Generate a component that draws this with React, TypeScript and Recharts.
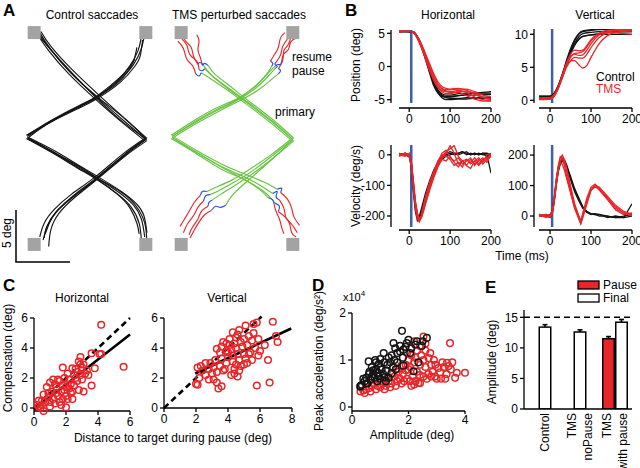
import React from 'react';
import {
  ComposedChart, Line, XAxis, YAxis, ReferenceLine, ReferenceDot,
  ScatterChart, Scatter, BarChart, Bar,
} from 'recharts';

const FONT = '"Liberation Sans", Arial, Helvetica, sans-serif';
const BLACK = '#151515';
const RED = '#e8262a';
const GREEN = '#66c340';
const BLUE = '#2a4fd6';
const STIM_BLUE = '#3f5fa8';
const GRAY = '#a3a3a3';

// ---------------- Panel A : trajectories (deg) ----------------
const targets = [[-5, 10], [5, 10], [-5, -10], [5, -10]];

const ctrlUpRight = [
  [[-5.6, 0.2], [-3.5, 1.6], [-1.0, 3.0], [0.6, 3.9], [2.4, 5.4], [3.6, 6.9], [4.3, 8.3], [4.6, 9.6]],
  [[-5.7, 0.3], [-3.4, 1.7], [-0.9, 3.1], [0.7, 4.0], [2.6, 5.5], [3.9, 7.0], [4.6, 8.5], [4.9, 9.9]],
  [[-5.5, 0.1], [-3.6, 1.5], [-1.1, 2.9], [0.5, 3.8], [2.3, 5.1], [3.3, 6.2], [3.9, 7.3], [4.2, 8.6]],
  [[-5.6, 0.3], [-3.5, 1.7], [-1.0, 3.1], [0.6, 4.0], [2.5, 5.6], [3.5, 6.7], [4.0, 7.5]],
  [[-5.6, 0.2], [-3.4, 1.6], [-0.9, 2.9], [0.7, 3.8], [2.7, 5.3], [4.0, 6.8], [4.5, 7.8], [4.7, 9.3]],
];
const ctrlUpLeft = [
  [[5.0, -0.1], [3.0, 1.7], [0.6, 3.9], [-1.8, 6.3], [-3.6, 8.5], [-4.6, 9.9]],
  [[5.1, 0.0], [3.1, 1.9], [0.8, 4.1], [-1.6, 6.5], [-3.5, 8.7], [-4.4, 10.1]],
  [[4.9, -0.2], [2.9, 1.5], [0.5, 3.7], [-1.9, 6.1], [-3.7, 8.3], [-4.7, 9.8]],
  [[5.0, 0.0], [3.2, 1.8], [0.7, 3.9], [-1.7, 6.2], [-3.5, 8.4], [-4.5, 10.0]],
  [[5.1, -0.1], [3.0, 1.5], [0.6, 3.8], [-1.8, 6.4], [-3.7, 8.6], [-4.8, 10.0]],
];
const ctrlDownRight = [
  [[-5.6, 0.1], [-3.2, -1.3], [-1.0, -2.7], [0.6, -3.7], [2.6, -5.1], [3.9, -6.3], [4.6, -7.6], [4.9, -9.3]],
  [[-5.7, 0.0], [-3.3, -1.4], [-1.1, -2.8], [0.5, -3.8], [2.4, -5.2], [3.7, -6.5], [4.4, -8.0], [4.6, -9.6]],
  [[-5.5, 0.1], [-3.1, -1.2], [-0.9, -2.6], [0.7, -3.6], [2.8, -5.0], [4.1, -6.1], [4.8, -7.2], [5.1, -8.9]],
  [[-5.6, 0.0], [-3.2, -1.4], [-1.0, -2.8], [0.6, -3.8], [2.5, -5.3], [3.6, -6.6], [4.2, -8.0], [4.4, -9.0]],
  [[-5.6, 0.1], [-3.3, -1.3], [-1.0, -2.6], [0.6, -3.7], [2.7, -5.0], [4.0, -6.2], [4.7, -7.4], [5.0, -8.5], [5.1, -9.9]],
];
const ctrlDownLeft = [
  [[5.0, -0.1], [3.0, -1.6], [0.6, -3.7], [-1.5, -5.4], [-3.0, -6.9], [-3.8, -8.2], [-4.2, -9.6]],
  [[5.1, -0.2], [3.1, -1.7], [0.7, -3.8], [-1.4, -5.6], [-2.8, -7.1], [-3.5, -8.6], [-3.7, -10.2]],
  [[4.9, 0.0], [2.9, -1.5], [0.5, -3.6], [-1.7, -5.3], [-3.2, -6.7], [-4.1, -8.0], [-4.5, -9.3]],
  [[5.0, -0.1], [3.0, -1.7], [0.6, -3.8], [-1.6, -5.6], [-3.1, -7.0], [-3.9, -8.4], [-4.1, -9.4]],
  [[5.0, 0.0], [3.1, -1.5], [0.7, -3.7], [-1.4, -5.4], [-2.9, -6.8], [-3.6, -7.9], [-4.0, -9.0]],
];

const tmsPrimary = [
  [[-5.8, 0.2], [-3.6, 1.6], [-1.5, 2.8], [0.0, 3.6], [1.6, 4.7], [2.8, 5.9], [3.4, 6.6]],
  [[-5.9, 0.3], [-3.7, 1.8], [-1.6, 3.0], [0.1, 3.8], [1.7, 5.0], [2.9, 6.3], [3.6, 7.0]],
  [[-5.7, 0.1], [-3.5, 1.5], [-1.4, 2.7], [0.1, 3.5], [1.8, 4.5], [3.0, 5.5], [3.7, 6.1]],
  [[-5.8, 0.2], [-3.6, 1.7], [-1.5, 2.9], [0.0, 3.7], [1.5, 4.8], [2.6, 6.0], [3.1, 6.8]],
  [[5.0, -0.1], [3.2, 1.5], [1.0, 3.3], [-0.8, 4.7], [-2.1, 5.8], [-2.9, 6.6]],
  [[5.1, 0.0], [3.3, 1.7], [1.1, 3.5], [-0.7, 5.0], [-2.0, 6.1], [-2.6, 6.9]],
  [[4.9, -0.2], [3.1, 1.4], [0.9, 3.2], [-0.9, 4.6], [-2.3, 5.6], [-3.2, 6.2]],
  [[5.0, -0.1], [3.2, 1.6], [1.0, 3.4], [-0.8, 4.8], [-2.2, 5.9], [-3.0, 6.9]],
  [[-5.8, 0.1], [-3.6, -1.3], [-1.3, -2.7], [0.6, -3.6], [2.2, -4.5], [3.2, -5.2]],
  [[-5.9, 0.0], [-3.7, -1.4], [-1.4, -2.9], [0.5, -3.8], [2.0, -4.8], [2.8, -5.6]],
  [[-5.7, 0.2], [-3.5, -1.2], [-1.2, -2.5], [0.8, -3.4], [2.6, -4.2], [3.6, -4.8]],
  [[-5.8, 0.1], [-3.5, -1.4], [-1.2, -2.8], [0.7, -3.9], [2.4, -5.0], [3.4, -6.1]],
  [[5.0, -0.1], [3.2, -1.6], [1.2, -3.2], [-0.4, -4.2], [-1.6, -4.9], [-2.4, -5.3]],
  [[5.1, -0.2], [3.3, -1.8], [1.3, -3.4], [-0.3, -4.5], [-1.5, -5.3], [-2.2, -5.8]],
  [[4.9, 0.0], [3.1, -1.5], [1.0, -3.0], [-0.6, -4.0], [-1.9, -4.6], [-2.7, -5.0]],
  [[5.0, -0.1], [3.4, -1.7], [1.5, -3.5], [0.2, -4.7], [-0.6, -5.6], [-1.0, -6.3]],
];
const tmsPause = [
  [[3.4, 6.6], [3.6, 6.8], [3.4, 7.0], [3.5, 7.2]],
  [[3.6, 7.0], [3.9, 7.0], [4.0, 7.3]],
  [[3.7, 6.1], [3.9, 6.4], [3.7, 6.6]],
  [[3.1, 6.8], [3.2, 7.1], [3.0, 7.3]],
  [[-2.9, 6.6], [-3.1, 6.4], [-3.4, 6.5]],
  [[-2.6, 6.9], [-2.9, 7.1], [-3.1, 6.9]],
  [[-3.2, 6.2], [-3.4, 5.9], [-3.7, 6.1]],
  [[-3.0, 6.9], [-3.3, 7.2], [-3.5, 7.0]],
  [[3.2, -5.2], [3.6, -5.0], [3.5, -5.5], [3.8, -5.8]],
  [[2.8, -5.6], [3.2, -5.8], [3.3, -6.1]],
  [[3.6, -4.8], [4.0, -4.7], [3.9, -5.1]],
  [[3.4, -6.1], [3.8, -6.4], [3.7, -6.9]],
  [[-2.4, -5.3], [-2.8, -5.4], [-3.0, -5.9]],
  [[-2.2, -5.8], [-2.5, -6.0], [-2.6, -6.4]],
  [[-2.7, -5.0], [-3.1, -5.0], [-3.3, -5.4]],
  [[-1.0, -6.3], [-1.5, -6.5], [-1.9, -6.4], [-2.3, -6.8]],
];
const tmsResume = [
  [[3.5, 7.2], [3.9, 7.9], [4.1, 8.7], [4.5, 9.4], [4.8, 10.3]],
  [[4.0, 7.3], [4.2, 8.0], [4.6, 8.4], [4.8, 9.1], [5.3, 9.5]],
  [[3.7, 6.6], [4.1, 7.4], [4.2, 8.3], [4.6, 8.9], [4.9, 9.9]],
  [[3.0, 7.3], [3.4, 8.0], [3.7, 8.6], [3.9, 9.5], [4.3, 10.0]],
  [[-3.4, 6.5], [-3.6, 7.3], [-4.2, 7.9], [-4.5, 8.8], [-5.1, 9.6]],
  [[-3.1, 6.9], [-3.3, 7.7], [-3.5, 8.4], [-3.4, 9.2], [-3.6, 9.8]],
  [[-3.7, 6.1], [-4.0, 6.9], [-4.5, 7.5], [-4.8, 8.5], [-5.3, 9.2]],
  [[-3.5, 7.0], [-3.9, 7.8], [-4.1, 8.6], [-4.6, 9.2], [-5.2, 10.1]],
  [[3.8, -5.8], [4.2, -6.6], [4.4, -7.5], [4.9, -8.1], [5.4, -8.9]],
  [[3.3, -6.1], [3.5, -6.9], [3.8, -7.6], [4.0, -8.4], [4.2, -9.0]],
  [[3.9, -5.1], [4.5, -5.7], [4.9, -6.6], [5.1, -7.4], [5.6, -8.2]],
  [[3.7, -6.9], [4.3, -7.4], [4.7, -8.0], [4.9, -8.9], [5.3, -9.3]],
  [[-3.0, -5.9], [-3.5, -6.5], [-3.9, -7.3], [-4.4, -8.0], [-4.8, -8.9]],
  [[-2.6, -6.4], [-3.2, -6.9], [-3.5, -7.6], [-4.0, -8.4], [-4.3, -9.1]],
  [[-3.3, -5.4], [-3.8, -6.0], [-4.3, -6.9], [-4.7, -7.6], [-5.1, -8.3]],
  [[-2.3, -6.8], [-2.9, -7.2], [-3.4, -7.9], [-3.8, -8.6], [-4.2, -9.4]],
];

// ---------------- Panel B : time series ----------------
const stimTime = 5;
const posHTimes = [-25, 0, 10, 20, 30, 40, 50, 60, 70, 80, 90, 100, 120, 140, 160, 180, 200];
const posHControl = [
  [5.3, 5.3, 5.2, 4.4, 3.0, 1.2, -0.8, -2.6, -3.8, -4.3, -4.5, -4.5, -4.4, -4.3, -4.3, -4.2, -4.2],
  [5.3, 5.3, 5.2, 4.5, 3.2, 1.5, -0.5, -2.4, -3.7, -4.4, -4.7, -4.8, -4.8, -4.7, -4.7, -4.6, -4.6],
  [5.2, 5.3, 5.1, 4.3, 2.9, 1.0, -1.0, -2.9, -4.0, -4.5, -4.6, -4.6, -4.4, -4.2, -4.0, -3.9, -3.8],
  [5.3, 5.3, 5.2, 4.4, 3.1, 1.3, -0.6, -2.5, -3.9, -4.7, -5.0, -5.0, -4.9, -4.9, -4.8, -4.8, -4.8],
  [5.3, 5.2, 5.2, 4.5, 3.3, 1.6, -0.3, -2.2, -3.5, -4.1, -4.3, -4.3, -4.1, -4.0, -4.0, -4.0, -4.0],
];
const posHTms = [
  [5.3, 5.3, 5.2, 4.3, 3.0, 1.4, -0.2, -1.7, -2.8, -3.4, -3.7, -3.8, -3.6, -3.9, -4.6, -5.0, -5.1],
  [5.3, 5.3, 5.2, 4.4, 3.2, 1.7, 0.1, -1.4, -2.6, -3.3, -3.5, -3.5, -3.4, -3.4, -3.8, -4.3, -4.5],
  [5.3, 5.3, 5.2, 4.2, 2.8, 1.1, -0.6, -2.1, -3.1, -3.6, -3.8, -3.9, -3.9, -4.4, -4.9, -5.2, -5.2],
  [5.3, 5.3, 5.2, 4.5, 3.3, 1.9, 0.4, -1.1, -2.3, -3.0, -3.3, -3.4, -3.3, -3.6, -4.2, -4.7, -4.9],
  [5.2, 5.3, 5.1, 4.3, 2.9, 1.2, -0.5, -2.0, -3.2, -3.8, -4.1, -4.1, -3.8, -3.7, -4.0, -4.6, -5.0],
];
const posVControlTimes = [-27, 0, 10, 20, 30, 40, 50, 60, 70, 80, 100, 120, 150, 200];
const posVControl = [
  [0.6, 0.6, 1.0, 2.2, 3.9, 5.8, 7.6, 9.0, 10.0, 10.4, 10.6, 10.7, 10.7, 10.7],
  [0.6, 0.6, 1.0, 2.0, 3.6, 5.4, 7.2, 8.6, 9.6, 10.1, 10.3, 10.4, 10.4, 10.4],
  [0.5, 0.5, 0.9, 2.1, 3.8, 5.6, 7.3, 8.5, 9.3, 9.7, 9.9, 10.0, 10.0, 10.0],
  [0.6, 0.6, 1.1, 2.3, 4.0, 6.0, 7.8, 9.2, 10.1, 10.5, 10.7, 10.8, 10.8, 10.8],
  [0.6, 0.6, 1.0, 2.1, 3.7, 5.5, 7.0, 8.3, 9.2, 9.7, 9.9, 10.1, 10.3, 10.4],
];
const posVTmsTimes = [-27, 0, 10, 20, 30, 40, 50, 60, 70, 80, 90, 100, 120, 140, 160, 200];
const posVTms = [
  [0.2, 0.3, 0.8, 2.0, 3.8, 5.6, 7.0, 7.6, 7.5, 7.6, 8.3, 9.2, 10.2, 10.6, 10.7, 10.8],
  [0.3, 0.3, 0.7, 1.8, 3.4, 5.0, 6.0, 6.5, 6.4, 6.4, 7.0, 8.0, 9.5, 10.3, 10.6, 10.7],
  [0.1, 0.2, 0.7, 1.9, 3.5, 5.1, 6.0, 6.0, 5.4, 4.9, 5.3, 6.5, 8.6, 9.8, 10.3, 10.5],
  [0.4, 0.4, 0.9, 2.1, 3.8, 5.5, 6.6, 7.0, 6.8, 6.9, 7.6, 8.6, 9.9, 10.4, 10.5, 10.6],
  [0.2, 0.2, 0.6, 1.8, 3.6, 5.3, 6.5, 7.1, 7.2, 7.4, 8.1, 9.0, 10.0, 10.3, 10.2, 10.0],
];
const velHTimes = [-25, -10, 0, 5, 10, 15, 20, 25, 30, 35, 40, 50, 60, 70, 80, 90, 100, 110, 120, 130, 140, 150, 160, 170, 180, 190, 200];
const velHControl = [
  [0, 0, -5, -30, -100, -170, -205, -210, -190, -165, -140, -95, -60, -30, -10, 0, 5, 0, 5, 10, 0, 5, 0, 5, 0, 0, -60],
  [5, 0, -5, -40, -120, -185, -215, -200, -175, -150, -125, -85, -50, -25, -5, 5, 10, 5, 0, 5, 10, 0, 5, 0, 5, -5, 5],
  [0, 5, 0, -25, -90, -160, -195, -205, -195, -170, -145, -100, -65, -35, -15, -5, 0, 5, 5, 10, 5, 0, 5, 0, 5, 5, 0],
];
const velHTms = [
  [0, 5, -5, -30, -95, -160, -200, -215, -200, -175, -150, -105, -65, -30, -5, 10, 20, 30, -5, -20, -15, -25, -10, -30, -15, -10, -5],
  [5, 0, 0, -20, -80, -150, -195, -215, -205, -180, -155, -110, -70, -35, -10, 5, 30, 5, -30, -20, -35, -15, -30, -20, -10, -25, 0],
  [0, 0, -5, -35, -105, -175, -210, -220, -200, -170, -140, -95, -55, -20, 0, -5, -15, -35, -25, -40, -15, -30, -20, -35, -20, -10, 0],
  [-5, 5, 0, -25, -90, -155, -190, -210, -205, -185, -160, -115, -75, -40, -15, -20, -5, -25, -40, -20, -35, -45, -20, -10, -25, 0, 5],
  [0, -5, 5, -30, -100, -165, -205, -215, -195, -165, -135, -90, -55, -25, 5, 15, -10, -20, -10, -30, -20, -10, -35, -15, -30, -15, -5],
];
const velVTimes = [-27, -10, 0, 5, 10, 15, 20, 25, 30, 35, 40, 50, 60, 70, 75, 80, 90, 100, 110, 120, 140, 160, 180, 200];
const velVControl = [
  [0, 5, 0, 10, 50, 110, 150, 180, 190, 185, 170, 130, 90, 60, 45, 30, 15, 8, 5, 5, 0, -5, -5, 40],
  [5, 0, 5, 15, 60, 120, 160, 175, 180, 175, 160, 125, 85, 55, 40, 28, 14, 6, 5, 0, 0, -5, 0, 5],
  [0, 0, -5, 5, 45, 100, 145, 170, 185, 180, 165, 120, 80, 50, 38, 25, 12, 5, 8, 5, -5, 0, -5, 0],
];
const velVTms = [
  [0, 5, 0, 10, 50, 110, 160, 190, 200, 185, 160, 100, 40, 0, -20, 5, 50, 90, 100, 85, 55, 25, 10, 5],
  [5, -5, 5, 15, 55, 115, 165, 195, 190, 165, 135, 80, 25, -10, -25, -5, 40, 85, 95, 90, 60, 30, 10, 0],
  [0, 0, -5, 5, 45, 100, 150, 180, 190, 180, 150, 90, 35, 0, -15, 10, 60, 95, 105, 90, 55, 20, 5, 10],
  [5, 0, 0, 10, 50, 105, 155, 175, 170, 150, 125, 75, 25, -5, -25, 0, 45, 85, 100, 95, 65, 35, 15, 5],
];

// ---------------- Panel C : compensation ----------------
const compHorizontal = [
  [4.2, 5.55], [5.6, 2.75], [4.1, 3.6], [4.2, 3.6], [3.6, 3.65], [2.9, 3.4], [2.8, 3.1], [2.9, 2.9], [3.0, 2.7], [2.4, 2.65],
  [1.8, 2.7], [3.3, 2.5], [3.2, 2.3], [2.7, 2.4], [2.5, 2.2], [2.1, 2.3], [1.9, 2.0], [1.2, 1.9], [1.5, 1.9], [1.6, 1.8],
  [1.0, 1.7], [0.8, 1.4], [1.4, 1.4], [2.0, 1.4], [2.3, 1.6], [2.7, 1.8], [3.0, 1.9], [3.6, 1.5], [3.1, 1.1], [3.8, 2.65],
  [2.6, 2.0], [2.3, 1.0], [2.0, 0.8], [1.8, 0.6], [2.4, 0.6], [1.5, 0.8], [1.2, 0.6], [0.9, 0.7], [0.7, 0.4], [0.5, 0.5],
  [0.3, 0.5], [0.2, 0.2], [0.4, 0.0], [0.6, -0.2], [1.0, 0.1], [1.3, 0.3], [1.6, 0.4], [2.0, 0.05], [1.1, 1.1], [1.9, 1.2],
  [2.2, 1.3], [1.7, 1.1], [2.5, 1.5], [2.8, 1.2], [1.4, 1.0], [0.9, 1.0], [0.6, 0.9], [0.3, 0.1], [1.8, 1.5], [2.9, 2.2],
  [2.2, 1.9], [3.4, 2.2], [3.1, 2.9], [2.6, 2.6], [1.0, 0.4], [0.5, 0.2], [1.7, 0.2], [2.1, 0.6], [1.3, 1.6], [2.4, 1.1],
];
const compVertical = [
  [6.8, 5.75], [5.8, 5.7], [5.6, 5.6], [5.1, 5.5], [4.7, 5.2], [4.3, 5.05], [4.6, 4.9], [5.3, 4.8], [7.0, 4.8], [7.1, 4.4],
  [6.3, 4.2], [5.9, 4.6], [5.5, 4.5], [5.0, 4.6], [4.8, 4.4], [4.4, 4.3], [4.1, 4.2], [3.9, 4.3], [3.7, 4.4], [3.3, 3.95],
  [3.5, 3.7], [3.9, 3.8], [4.2, 3.9], [4.5, 4.0], [4.9, 4.1], [5.2, 4.2], [5.7, 4.0], [6.0, 3.8], [5.4, 3.7], [5.0, 3.6],
  [4.6, 3.6], [4.3, 3.5], [4.0, 3.4], [3.6, 3.3], [3.2, 3.2], [2.9, 3.0], [2.6, 3.0], [2.3, 2.8], [2.1, 2.7], [2.4, 2.5],
  [2.8, 2.6], [3.1, 2.7], [3.5, 2.8], [3.9, 3.0], [4.3, 3.1], [4.7, 3.2], [5.1, 3.3], [5.5, 3.2], [5.9, 3.5], [6.5, 3.2],
  [4.5, 2.9], [4.8, 2.8], [4.4, 2.6], [4.7, 2.5], [3.7, 2.5], [3.3, 2.4], [3.0, 2.3], [2.6, 2.2], [2.2, 2.0], [2.0, 1.6],
  [2.1, 1.55], [3.4, 1.3], [3.6, 1.45], [3.3, 1.7], [3.1, 1.9], [4.4, 2.3], [4.6, 2.1], [4.2, 2.2], [5.0, 2.9], [5.2, 3.0],
  [6.6, 1.7], [5.8, 1.5], [5.3, 3.6], [4.0, 3.7], [3.6, 4.1], [4.1, 4.6], [4.5, 4.7], [5.6, 5.0], [3.8, 2.6], [2.8, 1.9],
];
const compHUnity = [{ x: 0, y: 0 }, { x: 6, y: 6 }];
const compHFit = [{ x: 0, y: -0.1 }, { x: 6, y: 4.9 }];
const compVUnity = [{ x: 0, y: 0 }, { x: 6.1, y: 6.1 }];
const compVFit = [{ x: 1.95, y: 2.3 }, { x: 7.95, y: 5.3 }];

// ---------------- Panel D : peak acceleration (x10^4 deg/s^2) ----------------
const accelControl = [
  [1.77, 1.62], [2.65, 1.47], [2.0, 1.43], [1.94, 1.36], [1.47, 1.36], [1.53, 1.25], [2.24, 1.33], [2.47, 1.3], [1.82, 1.22], [1.12, 1.15],
  [2.06, 1.15], [2.35, 0.95], [1.82, 0.88], [2.18, 0.76], [0.59, 0.97], [0.82, 1.0], [0.29, 0.43], [0.35, 0.47], [1.6, 1.15], [1.7, 1.18],
  [1.4, 1.1], [1.3, 1.05], [1.0, 1.02], [0.95, 0.92], [1.15, 0.95], [1.25, 0.9], [1.35, 0.95], [1.5, 1.0], [0.7, 0.85], [0.75, 0.78],
  [0.85, 0.8], [0.9, 0.72], [1.05, 0.8], [1.2, 0.78], [1.1, 0.7], [1.4, 0.72], [1.3, 0.62], [0.6, 0.7], [0.5, 0.62], [0.45, 0.55],
  [0.55, 0.5], [0.65, 0.58], [0.8, 0.62], [0.9, 0.55], [1.0, 0.6], [1.2, 0.55], [0.7, 0.65], [0.4, 0.6], [0.3, 0.45], [1.6, 0.95],
  [1.8, 1.05], [2.1, 1.25], [2.3, 1.4], [2.5, 1.4], [1.45, 0.85], [1.7, 1.3], [1.55, 0.8], [0.85, 0.95], [1.9, 1.28], [1.0, 0.85],
  [0.75, 0.7], [1.15, 0.63], [0.5, 0.5], [0.62, 0.75], [0.95, 0.65],
];
const accelTms = [
  [3.47, 1.36], [4.0, 0.73], [3.71, 0.73], [3.65, 0.62], [3.36, 0.94], [3.42, 0.87], [3.06, 0.83], [3.12, 0.74], [2.94, 0.65], [3.0, 0.6],
  [2.53, 0.65], [2.41, 0.51], [2.35, 0.51], [2.77, 1.15], [2.71, 1.04], [2.53, 1.5], [2.53, 1.0], [2.41, 0.9], [2.2, 1.4], [2.3, 1.2],
  [2.1, 1.1], [2.0, 1.0], [2.2, 0.95], [1.9, 0.9], [2.0, 0.8], [2.3, 0.75], [2.6, 0.85], [2.8, 0.9], [2.9, 1.0], [3.2, 0.95],
  [3.35, 0.7], [2.7, 0.7], [2.6, 1.2], [2.45, 1.1], [2.15, 0.65], [1.95, 0.6], [1.8, 0.7], [1.7, 0.6], [1.6, 0.55], [1.5, 0.65],
  [1.4, 0.5], [1.3, 0.55], [1.2, 0.45], [1.1, 0.5], [1.0, 0.42], [0.9, 0.45], [0.8, 0.5], [0.7, 0.45], [0.6, 0.4], [0.5, 0.38],
  [0.4, 0.35], [0.3, 0.33], [0.45, 0.3], [0.65, 0.33], [1.35, 0.42], [1.55, 0.45], [1.75, 0.5], [1.85, 0.55], [2.05, 0.55], [2.25, 0.55],
  [1.05, 0.55], [1.25, 0.62], [1.45, 0.7], [1.65, 0.75], [1.9, 0.78], [2.05, 0.85], [1.75, 0.88], [1.6, 0.82], [2.4, 0.68], [2.65, 0.6],
  [2.85, 0.75], [3.25, 0.85], [3.5, 0.8], [3.55, 0.95], [1.15, 0.38], [0.85, 0.38], [2.95, 0.9], [2.25, 1.05], [2.4, 1.3], [2.6, 1.35],
  [1.95, 1.15], [3.15, 0.6], [3.3, 0.6], [2.8, 0.65], [2.1, 0.45], [2.2, 0.48],
];

// ---------------- Panel E : amplitudes ----------------
const ampGroups = ['Control', 'TMS\nnoPause', 'TMS\nwith pause'];
const ampPause = [null, null, 11.5];
const ampPauseErr = [null, null, 0.35];
const ampFinal = [13.4, 12.6, 14.2];
const ampFinalErr = [0.4, 0.35, 0.45];
const ampTarget = 15;

// ---------------- helpers ----------------
const toXY = (arr: number[][]) => arr.map(([x, y]) => ({ x, y }));
const toTV = (times: number[], vals: number[]) => times.map((t, i) => ({ t, v: vals[i] }));

type Rect = { left: number; top: number; width: number; height: number };
const PAD = 10;
function frame(p: Rect, yw = 0, xh = 0) {
  const L = PAD + yw;
  return {
    style: { position: 'absolute' as const, left: p.left - L, top: p.top - PAD },
    width: p.width + L + PAD,
    height: p.height + PAD + PAD + xh,
    margin: { top: PAD, right: PAD, bottom: PAD, left: PAD },
  };
}

const tickFont = { fill: '#000', fontSize: 12, fontFamily: FONT };
const axLine = { stroke: '#000', strokeWidth: 1.3 };

const ring = (color: string) => (p: any) => (
  <circle cx={p.cx} cy={p.cy} r={3.3} fill="none" stroke={color} strokeWidth={1.5} />
);
const square = (p: any) => (
  <rect x={p.cx - 6.5} y={p.cy - 6.5} width={13} height={13} fill={GRAY} />
);

function TrajPanel({ plot, groups }: { plot: Rect; groups: { paths: number[][][]; color: string }[] }) {
  const f = frame(plot);
  return (
    <div style={f.style}>
      <ComposedChart width={f.width} height={f.height} margin={f.margin}>
        <XAxis type="number" dataKey="x" domain={[-6, 6]} hide allowDataOverflow />
        <YAxis type="number" domain={[-11, 11]} hide allowDataOverflow />
        {targets.map(([x, y], i) => (
          <ReferenceDot key={'t' + i} x={x} y={y} r={6} shape={square} ifOverflow="visible" />
        ))}
        {groups.map((g, gi) =>
          g.paths.map((p, i) => (
            <Line key={gi + '-' + i} data={toXY(p)} dataKey="y" type="natural" stroke={g.color}
              strokeWidth={1.15} dot={false} activeDot={false} isAnimationActive={false} />
          )),
        )}
      </ComposedChart>
    </div>
  );
}

function TracePanel(props: {
  plot: Rect; xDomain: number[]; xPad: number; yDomain: number[]; yTicks: number[]; yPad: number;
  series: { times: number[]; vals: number[][]; color: string }[]; curve: any;
}) {
  const { plot, xDomain, xPad, yDomain, yTicks, yPad, series, curve } = props;
  const f = frame(plot, 40, 26);
  return (
    <div style={f.style}>
      <ComposedChart width={f.width} height={f.height} margin={f.margin}>
        <XAxis type="number" dataKey="t" domain={xDomain} ticks={[0, 100, 200]} allowDataOverflow
          padding={{ left: xPad, right: 0 }} height={26} tick={tickFont} tickSize={4} tickMargin={2}
          tickLine={axLine} axisLine={{ ...axLine, strokeDasharray: `0 ${xPad} ${plot.width} 0` }} />
        <YAxis type="number" domain={yDomain} ticks={yTicks} allowDataOverflow
          padding={{ top: 0, bottom: yPad }} width={40} tick={tickFont} tickSize={4} tickMargin={2}
          tickLine={axLine} axisLine={{ ...axLine, strokeDasharray: `${plot.height - yPad} 400` }} />
        <ReferenceLine segment={[{ x: stimTime, y: yDomain[0] }, { x: stimTime, y: yDomain[1] }]}
          stroke={STIM_BLUE} strokeWidth={2.5} />
        {series.map((s, si) =>
          s.vals.map((v, i) => (
            <Line key={si + '-' + i} data={toTV(s.times, v)} dataKey="v" type={curve} stroke={s.color}
              strokeWidth={1.3} dot={false} activeDot={false} isAnimationActive={false} />
          )),
        )}
      </ComposedChart>
    </div>
  );
}

function CompPanel(props: {
  plot: Rect; xMax: number; xTicks: number[]; pts: number[][]; unity: any[]; fit: any[];
}) {
  const { plot, xMax, xTicks, pts, unity, fit } = props;
  const f = frame(plot, 30, 24);
  return (
    <div style={f.style}>
      <ScatterChart width={f.width} height={f.height} margin={f.margin}>
        <XAxis type="number" dataKey="x" domain={[0, xMax]} ticks={xTicks} height={24} tick={tickFont}
          tickSize={4} tickMargin={2} tickLine={axLine} axisLine={axLine} />
        <YAxis type="number" dataKey="y" domain={[0, 6]} ticks={[0, 2, 4, 6]} width={30} tick={tickFont}
          tickSize={4} tickMargin={2} tickLine={axLine} axisLine={axLine} />
        <Scatter data={toXY(pts)} shape={ring(RED)} isAnimationActive={false} />
        <ReferenceLine segment={unity} stroke="#000" strokeWidth={2.6} strokeDasharray="6 4" ifOverflow="visible" />
        <ReferenceLine segment={fit} stroke="#000" strokeWidth={2.6} ifOverflow="visible" />
      </ScatterChart>
    </div>
  );
}

function AccelPanel() {
  const plot = { left: 352, top: 313, width: 113, height: 98 };
  const f = frame(plot, 30, 24);
  return (
    <div style={f.style}>
      <ScatterChart width={f.width} height={f.height} margin={f.margin}>
        <XAxis type="number" dataKey="x" domain={[0, 4]} ticks={[0, 2, 4]} height={24} tick={tickFont}
          tickSize={3} tickMargin={1} tickLine={axLine} axisLine={axLine} />
        <YAxis type="number" dataKey="y" domain={[0, 2]} ticks={[0, 1, 2]} width={30} tick={tickFont}
          padding={{ top: 0, bottom: 4 }} tickSize={4} tickMargin={2} tickLine={axLine} axisLine={axLine} />
        <Scatter data={toXY(accelTms)} shape={ring(RED)} isAnimationActive={false} />
        <Scatter data={toXY(accelControl)} shape={ring(BLACK)} isAnimationActive={false} />
      </ScatterChart>
    </div>
  );
}

const CatTick = (p: any) => {
  const lines = String(p.payload.value).split('\n');
  return (
    <g>
      {lines.map((ln, i) => {
        const cx = p.x + (i - (lines.length - 1) / 2) * 16;
        const cy = p.y;
        return (
          <text key={i} x={cx} y={cy} transform={`rotate(-90 ${cx} ${cy})`} textAnchor="end"
            dominantBaseline="central" fontSize={12} fontFamily={FONT} fill="#000">{ln}</text>
        );
      })}
    </g>
  );
};

const barShape = (valKey: string, errKey: string, color: string) => (p: any) => {
  const d = p.payload || {};
  const val = d[valKey];
  if (val == null || !p.height) return <g />;
  const shift = valKey === 'final' && d.pause == null ? -p.width / 2 : 0;
  const x = p.x + shift;
  const cx = x + p.width / 2;
  const errPx = (d[errKey] || 0) * p.height / val;
  return (
    <g>
      <rect x={x + 0.75} y={p.y} width={p.width - 1.5} height={p.height} fill={color} stroke="#000" strokeWidth={1.5} />
      <line x1={cx} y1={p.y} x2={cx} y2={p.y - errPx} stroke="#000" strokeWidth={1.6} />
      <line x1={cx - 2.5} y1={p.y - errPx} x2={cx + 2.5} y2={p.y - errPx} stroke="#000" strokeWidth={1.6} />
    </g>
  );
};

function AmpPanel() {
  const rows = ampGroups.map((name, i) => ({
    name, pause: ampPause[i], pauseErr: ampPauseErr[i], final: ampFinal[i], finalErr: ampFinalErr[i],
  }));
  const plot = { left: 524, top: 310, width: 108, height: 99 };
  const f = frame(plot, 34, 62);
  return (
    <div style={f.style}>
      <BarChart width={f.width} height={f.height} margin={f.margin} data={rows} barGap={0} barSize={13}>
        <XAxis dataKey="name" type="category" height={62} tick={<CatTick />} tickSize={0} tickMargin={4}
          tickLine={false} axisLine={axLine} padding={{ left: 3, right: 0 }} interval={0} />
        <YAxis type="number" domain={[0, 16.2]} ticks={[0, 5, 10, 15]} width={34} tick={tickFont}
          tickSize={4} tickMargin={2} tickLine={axLine} axisLine={axLine} allowDataOverflow />
        <ReferenceLine y={ampTarget} stroke="#000" strokeWidth={1.5} strokeDasharray="6 4" />
        <Bar dataKey="pause" fill={RED} shape={barShape('pause', 'pauseErr', RED)} isAnimationActive={false} />
        <Bar dataKey="final" fill="#fff" shape={barShape('final', 'finalErr', '#fff')} isAnimationActive={false} />
      </BarChart>
    </div>
  );
}

const T = (p: any) => (
  <text fontFamily={FONT} fontSize={12} fill="#000" dominantBaseline="central" {...p} />
);
const RT = ({ x, y, children, ...rest }: any) => (
  <text x={x} y={y} transform={`rotate(-90 ${x} ${y})`} textAnchor="middle" dominantBaseline="central"
    fontFamily={FONT} fontSize={12} fill="#000" {...rest}>{children}</text>
);
const Letter = ({ x, y, children }: any) => (
  <text x={x} y={y} fontFamily={FONT} fontSize={17} fontWeight="bold" fill="#000" dominantBaseline="central">{children}</text>
);

export default function App() {
  const ctrlGroups = [
    { paths: [...ctrlUpRight, ...ctrlUpLeft, ...ctrlDownRight, ...ctrlDownLeft], color: BLACK },
  ];
  const tmsGroups = [
    { paths: tmsPrimary, color: GREEN },
    { paths: tmsResume, color: RED },
    { paths: tmsPause, color: BLUE },
  ];
  return (
    <div style={{ position: 'absolute', left: 0, top: 0, width: 640, height: 468, background: '#fff', overflow: 'hidden', fontFamily: FONT }}>
      <TrajPanel plot={{ left: 23, top: 22, width: 134, height: 233 }} groups={ctrlGroups} />
      <TrajPanel plot={{ left: 170, top: 22, width: 134, height: 233 }} groups={tmsGroups} />

      <TracePanel plot={{ left: 391, top: 30, width: 100, height: 78 }} xDomain={[-25, 200]} xPad={8}
        yDomain={[-5.5, 5.5]} yTicks={[-5, 0, 5]} yPad={5} curve="monotone"
        series={[{ times: posHTimes, vals: posHControl, color: BLACK }, { times: posHTimes, vals: posHTms, color: RED }]} />
      <TracePanel plot={{ left: 534, top: 29, width: 98, height: 79 }} xDomain={[-27, 200]} xPad={5}
        yDomain={[-0.4, 10.8]} yTicks={[0, 5, 10]} yPad={5} curve="monotone"
        series={[{ times: posVControlTimes, vals: posVControl, color: BLACK }, { times: posVTmsTimes, vals: posVTms, color: RED }]} />
      <TracePanel plot={{ left: 391, top: 145, width: 100, height: 85 }} xDomain={[-25, 200]} xPad={8}
        yDomain={[-236, 32]} yTicks={[-200, -100, 0]} yPad={3} curve="linear"
        series={[{ times: velHTimes, vals: velHControl, color: BLACK }, { times: velHTimes, vals: velHTms, color: RED }]} />
      <TracePanel plot={{ left: 534, top: 145, width: 98, height: 85 }} xDomain={[-27, 200]} xPad={5}
        yDomain={[-36, 233]} yTicks={[0, 100, 200]} yPad={3} curve="linear"
        series={[{ times: velVTimes, vals: velVControl, color: BLACK }, { times: velVTimes, vals: velVTms, color: RED }]} />

      <CompPanel plot={{ left: 34, top: 318, width: 96, height: 93 }} xMax={6} xTicks={[0, 2, 4, 6]}
        pts={compHorizontal} unity={compHUnity} fit={compHFit} />
      <CompPanel plot={{ left: 164, top: 318, width: 128, height: 90 }} xMax={8} xTicks={[0, 2, 4, 6, 8]}
        pts={compVertical} unity={compVUnity} fit={compVFit} />

      <AccelPanel />
      <AmpPanel />

      <svg width={640} height={468} style={{ position: 'absolute', left: 0, top: 0, pointerEvents: 'none' }}>
        <Letter x={3} y={10}>A</Letter>
        <Letter x={345} y={10}>B</Letter>
        <Letter x={3} y={285}>C</Letter>
        <Letter x={312} y={285}>D</Letter>
        <Letter x={485} y={287}>E</Letter>

        <T x={92} y={15} textAnchor="middle">Control saccades</T>
        <T x={239} y={15} textAnchor="middle">TMS perturbed saccades</T>
        <T x={292} y={57}>resume</T>
        <T x={292} y={71}>pause</T>
        <T x={275} y={112}>primary</T>
        <line x1={16} y1={210} x2={16} y2={262} stroke="#000" strokeWidth={1.5} />
        <line x1={15.25} y1={262} x2={70} y2={262} stroke="#000" strokeWidth={1.5} />
        <RT x={7} y={233}>5 deg</RT>

        <T x={448} y={15} textAnchor="middle">Horizontal</T>
        <T x={595} y={15} textAnchor="middle">Vertical</T>
        <RT x={356} y={65}>Position (deg)</RT>
        <RT x={356} y={186}>Velocity (deg/s)</RT>
        <T x={522} y={256} textAnchor="middle">Time (ms)</T>
        <T x={596} y={77}>Control</T>
        <T x={596} y={89} fill={RED}>TMS</T>

        <T x={82} y={298} textAnchor="middle">Horizontal</T>
        <T x={227} y={298} textAnchor="middle">Vertical</T>
        <RT x={8} y={358}>Compensation (deg)</RT>
        <T x={173} y={438} textAnchor="middle">Distance to target during pause (deg)</T>

        <RT x={319} y={361}>Peak acceleration (deg/s²)</RT>
        <text x={343} y={297} fontFamily={FONT} fontSize={11} fill="#000" dominantBaseline="central">
          x10<tspan dy={-4} fontSize={8}>4</tspan>
        </text>
        <T x={412} y={435} textAnchor="middle">Amplitude (deg)</T>

        <RT x={492} y={362}>Amplitude (deg)</RT>
        <rect x={578} y={281} width={21} height={8} fill={RED} stroke="#000" strokeWidth={1.3} />
        <T x={603} y={285}>Pause</T>
        <rect x={578} y={294} width={21} height={8} fill="#fff" stroke="#000" strokeWidth={1.3} />
        <T x={603} y={298}>Final</T>
      </svg>
    </div>
  );
}
